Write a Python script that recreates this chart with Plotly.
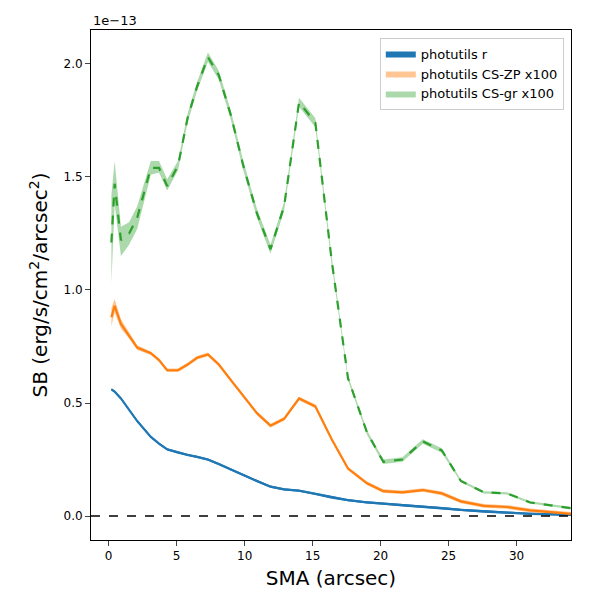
import plotly.graph_objects as go

sma = [0.2,0.44,0.9,1.5,2.1,3.1,3.7,4.3,5.1,5.8,6.5,7.3,8.1,9.0,9.9,10.9,11.9,12.9,14.0,15.2,16.4,17.6,19.0,20.2,21.6,23.1,24.5,25.9,27.6,29.3,31.0,34.0]
sb_r = [0.56,0.55,0.52,0.47,0.42,0.35,0.32,0.295,0.28,0.27,0.262,0.25,0.23,0.205,0.18,0.155,0.13,0.118,0.112,0.098,0.082,0.07,0.06,0.055,0.047,0.04,0.035,0.027,0.02,0.015,0.01,0.005]
sb_zp = [0.88,0.93,0.85,0.80,0.745,0.72,0.69,0.645,0.645,0.67,0.70,0.715,0.67,0.60,0.53,0.455,0.40,0.43,0.52,0.485,0.34,0.21,0.145,0.11,0.105,0.115,0.10,0.065,0.045,0.04,0.025,0.01]
sb_gr = [1.21,1.47,1.22,1.25,1.32,1.54,1.54,1.46,1.55,1.76,1.90,2.03,1.95,1.77,1.55,1.34,1.18,1.37,1.83,1.74,1.13,0.61,0.37,0.24,0.25,0.33,0.29,0.155,0.105,0.10,0.06,0.035]
err_zp = [0.04,0.03,0.02,0.015,0.01]+[0.008]*27
gr_lo = [1.03,1.38,1.15,1.20,1.27,1.51,1.52,1.44,1.53,1.74,1.88,2.01,1.93,1.75,1.53,1.32,1.16,1.35,1.81,1.72,1.11,0.60,0.36,0.23,0.24,0.32,0.28,0.15,0.10,0.095,0.055,0.03]
gr_hi = [1.42,1.57,1.28,1.30,1.37,1.57,1.57,1.49,1.57,1.78,1.92,2.05,1.97,1.79,1.57,1.36,1.20,1.39,1.85,1.76,1.15,0.62,0.38,0.25,0.26,0.34,0.30,0.16,0.11,0.105,0.065,0.04]

fig = go.Figure()
def band(lo, hi, color, name):
    fig.add_trace(go.Scatter(x=sma+sma[::-1], y=hi+lo[::-1], fill='toself', fillcolor=color,
                             line=dict(width=0), mode='lines', name=name, hoverinfo='skip'))
band([v-0.005 for v in sb_r], [v+0.005 for v in sb_r], 'rgba(31,119,180,1)', 'photutils r')
band([a-b for a,b in zip(sb_zp,err_zp)], [a+b for a,b in zip(sb_zp,err_zp)], 'rgba(255,127,14,0.45)', 'photutils CS-ZP x100')
band(gr_lo, gr_hi, 'rgba(44,160,44,0.4)', 'photutils CS-gr x100')
fig.add_trace(go.Scatter(x=sma, y=sb_r, mode='lines', line=dict(color='#1f77b4', width=2.2), showlegend=False))
fig.add_trace(go.Scatter(x=sma, y=sb_zp, mode='lines', line=dict(color='#ff7f0e', width=2.2), showlegend=False))
fig.add_trace(go.Scatter(x=sma, y=sb_gr, mode='lines', line=dict(color='#2ca02c', width=2.2, dash='dash'), showlegend=False))
fig.add_hline(y=0, line=dict(color='black', dash='dash', width=1.5))

ax = dict(showline=True, mirror=True, linecolor='black', ticks='outside', showgrid=False, zeroline=False,
          tickfont=dict(size=12, color='black'))
fig.update_layout(
    width=600, height=600, template='none', plot_bgcolor='white',
    margin=dict(l=83, r=37, t=22, b=68),
    font=dict(family='DejaVu Sans', color='black'),
    xaxis=dict(ax, range=[-1.3, 34], tickvals=[0,5,10,15,20,25,30],
               title=dict(text='SMA (arcsec)', font=dict(size=20), standoff=8)),
    yaxis=dict(ax, range=[-0.106, 2.15], tickvals=[0,0.5,1,1.5,2], ticktext=['0.0','0.5','1.0','1.5','2.0'],
               title=dict(text='SB (erg/s/cm<sup>2</sup>/arcsec<sup>2</sup>)', font=dict(size=20), standoff=10)),
    legend=dict(x=0.985, y=0.985, xanchor='right', yanchor='top', bordercolor='#ccc', borderwidth=1,
                bgcolor='white', font=dict(size=13)),
    annotations=[dict(text='1e\u221213', x=0, y=1.0, xref='paper', yref='paper', xanchor='left', yanchor='bottom',
                      showarrow=False, font=dict(size=13))]
)
fig.write_html('out.html')
